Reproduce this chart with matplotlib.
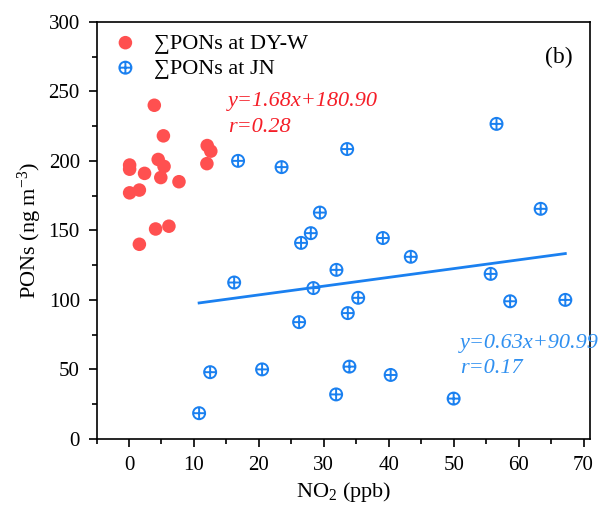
import matplotlib
matplotlib.use("Agg")
import matplotlib.pyplot as plt
import numpy as np
from matplotlib.path import Path
from matplotlib.ticker import MultipleLocator

plt.rcParams['font.family'] = ['Liberation Serif', 'DejaVu Serif', 'DejaVu Sans']
plt.rcParams['mathtext.fontset'] = 'custom'
plt.rcParams['mathtext.rm'] = 'Liberation Serif'
plt.rcParams['mathtext.it'] = 'Liberation Serif:italic'

# DY-W data (NO2 ppb, PONs ng m-3)
dyw_no2 = [0.1, 0.1, 0.1, 1.6, 2.4, 3.9, 4.5, 4.9, 5.3, 5.4, 4.1, 6.15, 1.6, 7.7, 12.05, 12.6, 12.0]
dyw_pons = [197, 194, 177, 179, 191, 240, 201, 188, 218, 196, 151, 153, 140, 185, 211, 207, 198]

# JN data
jn_no2 = [33.6, 16.8, 23.5, 29.4, 28.0, 26.5, 39.1, 31.95, 16.2, 28.4, 35.3, 33.7, 26.2,
          12.5, 20.5, 33.95, 40.3, 31.9, 10.8, 43.4, 56.6, 63.4, 55.7, 58.7, 67.2, 50.0]
jn_pons = [208.5, 200, 195.5, 162.8, 148, 141, 144.5, 121.6, 112.5, 108.5, 101.5, 90.5, 84,
           48, 50, 52, 46, 32, 18.5, 131, 226.6, 165.5, 118.7, 99, 100, 29]

jn_slope, jn_intercept = 0.63, 90.99
dyw_eq = ["y=1.68x+180.90", "r=0.28"]
jn_eq = ["y=0.63x+90.99", "r=0.17"]

red = "#FF5050"
blue = "#1A80F0"

fig = plt.figure(figsize=(6.07, 5.08), dpi=100)
ax = fig.add_axes([0.159, 0.136, 0.813, 0.821])

ax.scatter(dyw_no2, dyw_pons, s=95, color=red, edgecolors='none', zorder=3,
           label="∑PONs at DY-W")

# circle-plus marker
circ = Path.unit_circle()
cross = Path([(-1, 0), (1, 0), (0, -1), (0, 1)],
             [Path.MOVETO, Path.LINETO, Path.MOVETO, Path.LINETO])
oplus = Path.make_compound_path(circ, cross)
ax.scatter(jn_no2, jn_pons, s=75, marker=oplus, facecolors='none', edgecolors=blue,
           linewidths=1.4, zorder=3, label="∑PONs at JN")

xs = np.array([min(jn_no2), max(jn_no2)])
ax.plot(xs, jn_slope * xs + jn_intercept, color=blue, lw=2, zorder=2)

ax.set_xlim(-5, 71)
ax.set_ylim(0, 300)
ax.xaxis.set_major_locator(MultipleLocator(10))
ax.xaxis.set_minor_locator(MultipleLocator(5))
ax.yaxis.set_major_locator(MultipleLocator(50))
ax.yaxis.set_minor_locator(MultipleLocator(25))
ax.tick_params(which='major', direction='out', length=6, width=1.2, labelsize=15, pad=6)
ax.tick_params(which='minor', direction='out', length=3.5, width=1.2)
for s in ax.spines.values():
    s.set_linewidth(1.2)

ax.set_xlabel("NO$_2$ (ppb)", fontsize=16, labelpad=4)
ax.set_ylabel("PONs (ng m$^{-3}$)", fontsize=16, labelpad=3)

leg = ax.legend(loc='upper left', frameon=False, fontsize=16, handletextpad=0.5,
                borderaxespad=0.1, labelspacing=0.2, scatterpoints=1,
                handlelength=1.6, bbox_to_anchor=(0.0, 1.0))

ax.text(0.965, 0.915, "(b)", transform=ax.transAxes, fontsize=17, ha='right', va='center')

ax.text(0.266, 0.808, dyw_eq[0], transform=ax.transAxes, fontsize=16, color='#F51E28',
        style='italic', va='center')
ax.text(0.266, 0.746, dyw_eq[1], transform=ax.transAxes, fontsize=16, color='#F51E28',
        style='italic', va='center')
ax.text(0.737, 0.228, jn_eq[0], transform=ax.transAxes, fontsize=16, color='#3090F0',
        style='italic', va='center')
ax.text(0.737, 0.168, jn_eq[1], transform=ax.transAxes, fontsize=16, color='#3090F0',
        style='italic', va='center')

fig.savefig("out.png", dpi=100)
